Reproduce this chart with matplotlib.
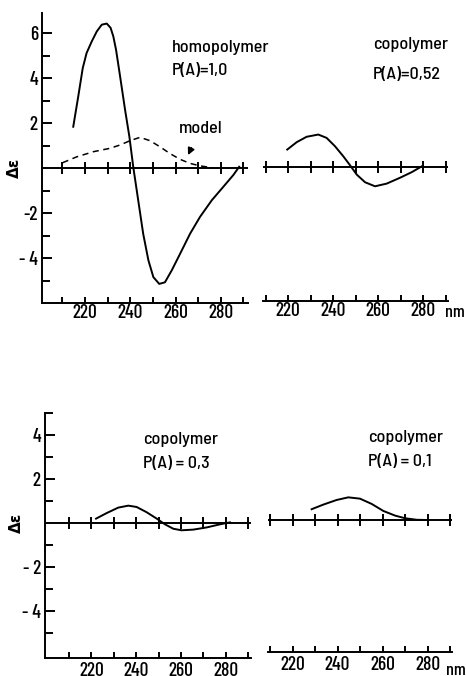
import matplotlib
matplotlib.use("Agg")
from matplotlib import pyplot as plt
import numpy as np

plt.rcParams['font.family'] = ['Barlow Semi Condensed', 'DejaVu Sans']
plt.rcParams['font.weight'] = 500

# region data
# homopolymer P(A)=1,0 (solid) and model (dashed)
homo_nm = [214.8, 217.0, 219.0, 220.7, 223.0, 225.2, 227.4, 229.6, 231.3, 232.5, 233.7, 235.5, 237.7,
           239.6, 241.3, 243.5, 245.7, 248.0, 250.2, 252.8, 255.3, 258.3, 262.0, 266.4, 270.8, 276.0,
           281.1, 285.5, 288.1]
homo_de = [1.84, 3.18, 4.45, 5.12, 5.64, 6.08, 6.38, 6.43, 6.24, 5.86, 5.27, 4.08, 2.59,
           1.4, 0.06, -1.43, -2.92, -4.1, -4.85, -5.15, -5.08, -4.55, -3.81, -2.92, -2.17, -1.43,
           -0.83, -0.31, 0.06]
model_nm = [210.1, 216.3, 223.7, 231.0, 235.5, 239.9, 244.3, 248.7, 253.1, 257.5, 262.0, 266.4, 270.8, 276.7]
model_de = [0.24, 0.5, 0.73, 0.88, 1.03, 1.22, 1.37, 1.22, 0.95, 0.65, 0.39, 0.21, 0.1, 0.01]

# copolymer P(A)=0,52
co52_nm = [219.6, 223.8, 228.2, 233.4, 237.1, 240.8, 244.5, 247.5, 250.5, 254.2, 258.6, 263.8, 269.7, 274.9, 279.4]
co52_de = [0.76, 1.09, 1.33, 1.43, 1.28, 0.91, 0.46, 0.06, -0.36, -0.7, -0.88, -0.76, -0.5, -0.25, 0.01]

# copolymer P(A)=0,3
co30_nm = [222.1, 226.8, 232.0, 236.5, 240.2, 244.7, 249.2, 252.9, 256.6, 260.3, 265.5, 271.5, 277.4, 281.9]
co30_de = [0.2, 0.45, 0.7, 0.79, 0.73, 0.49, 0.2, -0.06, -0.26, -0.33, -0.3, -0.2, -0.06, 0.03]

# copolymer P(A)=0,1
co10_nm = [228.5, 233.7, 239.6, 244.8, 250.0, 255.2, 260.4, 265.6, 270.0, 275.2, 279.6]
co10_de = [0.49, 0.7, 0.91, 1.03, 0.97, 0.73, 0.41, 0.2, 0.08, 0.01, 0.0]

x_labeled = [220, 240, 260, 280]
x_minor = [210, 230, 250, 270, 290]
zero_ticks = [210, 220, 230, 240, 250, 260, 270, 280, 290]
# endregion

W, H = 466, 676
LW = 1.4
FS = 13
TICK_FONT = ['Barlow Condensed', 'DejaVu Sans']
TFS = 14

fig = plt.figure(figsize=(W / 100, H / 100), dpi=100)


def panel(left, top, right, bottom, xlim, ylim, yaxis, label_pad):
    ax = fig.add_axes([left / W, 1 - bottom / H, (right - left) / W, (bottom - top) / H])
    ax.set_xlim(*xlim)
    ax.set_ylim(*ylim)
    for s in ("top", "right"):
        ax.spines[s].set_visible(False)
    ax.spines["bottom"].set_linewidth(LW)
    ax.spines["left"].set_linewidth(LW)
    ax.spines["left"].set_visible(yaxis)
    ax.set_xticks(x_labeled, [str(v) for v in x_labeled], family=TICK_FONT, fontsize=TFS)
    ax.set_xticks(x_minor, minor=True)
    ax.tick_params(axis="x", which="both", direction="in", length=4, width=LW, pad=label_pad)
    if not yaxis:
        ax.set_yticks([])
    ax.axhline(0, color="k", lw=LW)
    ax.plot(zero_ticks, np.zeros(len(zero_ticks)), ls="none", marker="|", ms=8, mew=LW, color="k")
    ax.patch.set_alpha(0)
    return ax


def y_ticks(ax, major, labels, minor):
    ax.set_yticks(major, labels, family=TICK_FONT, fontsize=TFS)
    ax.set_yticks(minor, minor=True)
    ax.tick_params(axis="y", which="major", direction="in", length=7, width=LW, pad=3)
    ax.tick_params(axis="y", which="minor", direction="in", length=5.5, width=LW)


ax1 = panel(42, 13, 248, 303, (201, 292), (-6.0, 6.9), True, 1)
y_ticks(ax1, [6, 4, 2, -2, -4], ["6", "4", "2", "-2", "- 4"], [5, 3, 1, -1, -3, -5])
ax1.plot(homo_nm, homo_de, color="k", lw=LW)
ax1.plot(model_nm, model_de, color="k", lw=1.1, dashes=(4, 3))
ax1.annotate("model", xy=(265.5, 0.58), xytext=(271, 1.75), ha="center", va="center", fontsize=FS,
             arrowprops=dict(arrowstyle="-|>", color="k", lw=1.2, shrinkA=7, shrinkB=0, mutation_scale=10))
ax1.text(258.4, 5.38, "homopolymer", ha="left", va="center", fontsize=FS)
ax1.text(258.4, 4.36, "P(A)=1,0", ha="left", va="center", fontsize=FS)
ax1.text(-0.136, 6.0 / 12.9, "Δε", transform=ax1.transAxes, rotation=90, ha="center", va="center",
         fontsize=11, fontweight="bold", family=["DejaVu Sans"])

ax2 = panel(263.4, 12, 447.9, 301, (209, 291), (-6.0, 6.9), False, 1)
ax2.plot(co52_nm, co52_de, color="k", lw=LW)
ax2.text(257.7, 5.47, "copolymer", ha="left", va="center", fontsize=FS)
ax2.text(257.7, 4.13, "P(A)=0,52", ha="left", va="center", fontsize=FS)
ax2.text(0.985, -0.04, "nm", transform=ax2.transAxes, ha="left", va="center", family=TICK_FONT, fontsize=13)

ax3 = panel(45, 413, 251, 657.7, (199.3, 291.3), (-6.12, 5.0), True, 3)
y_ticks(ax3, [4, 2, -2, -4], ["4", "2", "- 2", "- 4"], [5, 3, 1, -1, -3, -5])
ax3.plot(co30_nm, co30_de, color="k", lw=LW)
ax3.text(242.9, 3.79, "copolymer", ha="left", va="center", fontsize=FS)
ax3.text(242.9, 2.7, "P(A) = 0,3", ha="left", va="center", fontsize=FS)
ax3.text(-0.141, 6.12 / 11.12, "Δε", transform=ax3.transAxes, rotation=90, ha="center", va="center",
         fontsize=11, fontweight="bold", family=["DejaVu Sans"])

ax4 = panel(267.75, 410, 452.25, 652, (209, 291), (-6.0, 5.0), False, 3)
ax4.plot(co10_nm, co10_de, color="k", lw=LW)
ax4.text(253.7, 3.76, "copolymer", ha="left", va="center", fontsize=FS)
ax4.text(253.7, 2.65, "P(A) = 0,1", ha="left", va="center", fontsize=FS)
ax4.text(0.965, -0.075, "nm", transform=ax4.transAxes, ha="left", va="center", family=TICK_FONT, fontsize=13)

fig.savefig("out.png", dpi=100)
